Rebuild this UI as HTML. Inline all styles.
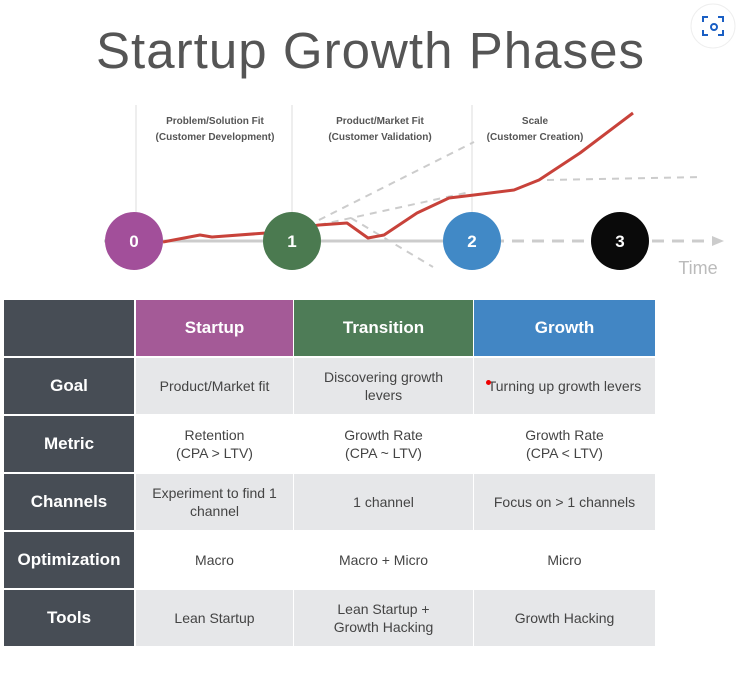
<!DOCTYPE html>
<html><head><meta charset="utf-8"><style>
body{margin:0;width:736px;height:691px;background:#fff;overflow:hidden;position:relative;font-family:"Liberation Sans",sans-serif}
.c{position:absolute;display:flex;align-items:center;justify-content:center;text-align:center;box-sizing:border-box}
.h{color:#fff;font-weight:bold;font-size:17px}
.l{background:#474d55;color:#fff;font-weight:bold;font-size:17px}
.d{color:#444;font-size:14px;line-height:18px}
</style></head><body>
<svg width="736" height="300" style="position:absolute;left:0;top:0">
<text x="370" y="68" text-anchor="middle" font-size="51" fill="#555" textLength="548" font-family="Liberation Sans">Startup Growth Phases</text>
<g stroke="#ddd" stroke-width="1"><line x1="136" y1="105" x2="136" y2="212"/><line x1="292" y1="105" x2="292" y2="212"/><line x1="472" y1="105" x2="472" y2="212"/></g>
<g font-size="10" font-weight="bold" fill="#555" text-anchor="middle">
<text x="215" y="124">Problem/Solution Fit</text><text x="215" y="140">(Customer Development)</text>
<text x="380" y="124">Product/Market Fit</text><text x="380" y="140">(Customer Validation)</text>
<text x="535" y="124">Scale</text><text x="535" y="140">(Customer Creation)</text></g>
<line x1="104" y1="241" x2="472" y2="241" stroke="#ccc" stroke-width="3"/>
<line x1="472" y1="241" x2="712" y2="241" stroke="#ccc" stroke-width="3" stroke-dasharray="12,8"/>
<polygon points="712,236 724,241 712,246" fill="#ccc"/>
<text x="698" y="274" font-size="18" fill="#bbb" text-anchor="middle">Time</text>
<g stroke="#ccc" stroke-width="2" stroke-dasharray="7,6" fill="none">
<line x1="319" y1="220" x2="474" y2="142"/>
<line x1="319" y1="225" x2="470" y2="192"/>
<line x1="547" y1="180" x2="702" y2="177"/>
<line x1="351" y1="218" x2="433" y2="267"/></g>
<polyline fill="none" stroke="#c8423a" stroke-width="3" stroke-linejoin="round" points="163,242 200,235 212,237 266,233 319,225 347,223 368,238 384,235 417,213 449,198 474,195 514,190 539,180 580,153 633,113"/>
<circle cx="134" cy="241" r="29" fill="#a24f9a"/><circle cx="292" cy="241" r="29" fill="#4b7a50"/>
<circle cx="472" cy="241" r="29" fill="#4189c6"/><circle cx="620" cy="241" r="29" fill="#0a0a0a"/>
<g fill="#fff" font-size="17" font-weight="bold" text-anchor="middle"><text x="134" y="247">0</text><text x="292" y="247">1</text><text x="472" y="247">2</text><text x="620" y="247">3</text></g>
<circle cx="713" cy="26" r="22" fill="#fff" stroke="#eee"/>
<g stroke="#1a5fc4" stroke-width="2" fill="none"><path d="M703 22v-5h5M718 17h5v5M723 30v5h-5M708 35h-5v-5"/><circle cx="714" cy="27" r="3"/></g>
</svg>
<div class="c l" style="left:4px;top:300px;width:130px;height:56px"></div>
<div class="c h" style="left:136px;top:300px;width:157px;height:56px;background:#a45a97">Startup</div>
<div class="c h" style="left:294px;top:300px;width:179px;height:56px;background:#4e7c57">Transition</div>
<div class="c h" style="left:474px;top:300px;width:181px;height:56px;background:#4286c4">Growth</div>

<div class="c l" style="left:4px;top:358px;width:130px;height:56px">Goal</div>
<div class="c d" style="left:136px;top:358px;width:157px;height:56px;background:#e6e7e9">Product/Market fit</div>
<div class="c d" style="left:294px;top:358px;width:179px;height:56px;background:#e6e7e9">Discovering growth<br>levers</div>
<div class="c d" style="left:474px;top:358px;width:181px;height:56px;background:#e6e7e9">Turning up growth levers</div>

<div class="c l" style="left:4px;top:416px;width:130px;height:56px">Metric</div>
<div class="c d" style="left:136px;top:416px;width:157px;height:56px">Retention<br>(CPA &gt; LTV)</div>
<div class="c d" style="left:294px;top:416px;width:179px;height:56px">Growth Rate<br>(CPA ~ LTV)</div>
<div class="c d" style="left:474px;top:416px;width:181px;height:56px">Growth Rate<br>(CPA &lt; LTV)</div>

<div class="c l" style="left:4px;top:474px;width:130px;height:56px">Channels</div>
<div class="c d" style="left:136px;top:474px;width:157px;height:56px;background:#e6e7e9">Experiment to find 1<br>channel</div>
<div class="c d" style="left:294px;top:474px;width:179px;height:56px;background:#e6e7e9">1 channel</div>
<div class="c d" style="left:474px;top:474px;width:181px;height:56px;background:#e6e7e9">Focus on &gt; 1 channels</div>

<div class="c l" style="left:4px;top:532px;width:130px;height:56px">Optimization</div>
<div class="c d" style="left:136px;top:532px;width:157px;height:56px">Macro</div>
<div class="c d" style="left:294px;top:532px;width:179px;height:56px">Macro + Micro</div>
<div class="c d" style="left:474px;top:532px;width:181px;height:56px">Micro</div>

<div class="c l" style="left:4px;top:590px;width:130px;height:56px">Tools</div>
<div class="c d" style="left:136px;top:590px;width:157px;height:56px;background:#e6e7e9">Lean Startup</div>
<div class="c d" style="left:294px;top:590px;width:179px;height:56px;background:#e6e7e9">Lean Startup +<br>Growth Hacking</div>
<div class="c d" style="left:474px;top:590px;width:181px;height:56px;background:#e6e7e9">Growth Hacking</div>
<div style="position:absolute;left:486px;top:380px;width:5px;height:5px;border-radius:50%;background:#e00"></div>
</body></html>
